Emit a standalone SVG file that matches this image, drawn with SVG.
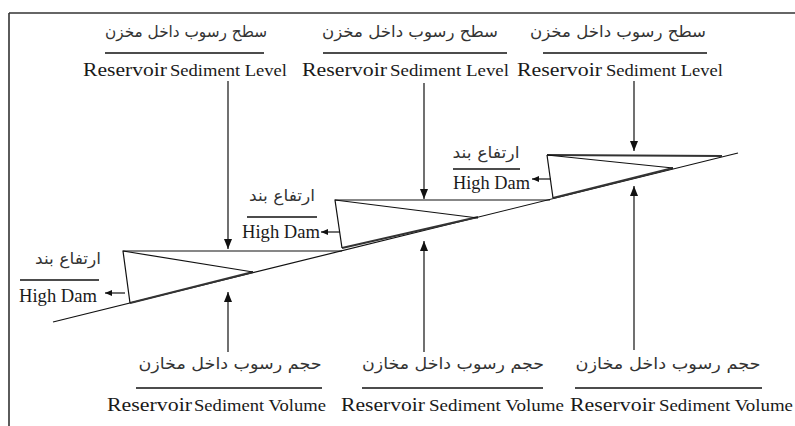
<svg xmlns="http://www.w3.org/2000/svg" width="795" height="426" viewBox="0 0 795 426">
<style>
.ln{stroke:#111;stroke-width:1.2;fill:none}
.sed{stroke:#333;stroke-width:2.2;fill:none}
.en{font-family:"Liberation Serif","Times New Roman",serif;fill:#1a1a1a}
.ar{font-family:"DejaVu Sans","Noto Sans",sans-serif;fill:#333;font-size:16px}
.rule{stroke:#111;stroke-width:1.3}
</style>
<defs>
<marker id="ah" markerUnits="userSpaceOnUse" markerWidth="10" markerHeight="8" refX="10" refY="4" orient="auto"><path d="M0,0 L10,4 L0,8 z" fill="#111"/></marker>
<marker id="as" markerUnits="userSpaceOnUse" markerWidth="7" markerHeight="6" refX="7" refY="3" orient="auto"><path d="M0,0 L7,3 L0,6 z" fill="#111"/></marker>
</defs>
<rect width="795" height="426" fill="#fff"/>
<g id="frame">
<line x1="9" y1="13" x2="795" y2="13" stroke="#333" stroke-width="1.6"/>
<line x1="9" y1="13" x2="9" y2="426" stroke="#333" stroke-width="1.6"/>
</g>
<g id="bed">
<line class="ln" x1="53" y1="322" x2="738" y2="153"/>
<line class="sed" x1="130" y1="303" x2="253" y2="272"/>
<line class="sed" x1="342" y1="248" x2="478" y2="217"/>
<line class="sed" x1="553" y1="198" x2="673" y2="168"/>
</g>
<g id="dam1">
<polyline class="ln" points="130,303 123,251 342,251"/>
<line class="ln" x1="123" y1="251" x2="253" y2="272"/>
</g>
<g id="dam2">
<polyline class="ln" points="342,248 335,200 550,200"/>
<line class="ln" x1="335" y1="200" x2="478" y2="218"/>
</g>
<g id="dam3">
<polyline class="ln" points="553,198 547,155"/>
<line x1="547" y1="155" x2="722" y2="156" stroke="#333" stroke-width="2.2"/>
<line class="ln" x1="547" y1="155" x2="673" y2="168"/>
</g>
<g id="connectors">
<line class="ln" x1="228" y1="81" x2="228" y2="249" marker-end="url(#ah)"/>
<line class="ln" x1="424" y1="83" x2="424" y2="199" marker-end="url(#ah)"/>
<line class="ln" x1="634" y1="81" x2="634" y2="151" marker-end="url(#ah)"/>
<line class="ln" x1="228" y1="352" x2="228" y2="292" marker-end="url(#ah)"/>
<line class="ln" x1="424" y1="352" x2="424" y2="241" marker-end="url(#ah)"/>
<line class="ln" x1="634" y1="350" x2="634" y2="186" marker-end="url(#ah)"/>
<line class="ln" x1="125" y1="293" x2="105" y2="293" marker-end="url(#as)"/>
<line class="ln" x1="340" y1="232" x2="321" y2="232" marker-end="url(#as)"/>
<line class="ln" x1="551" y1="179" x2="532" y2="179" marker-end="url(#as)"/>
</g>
<g id="label-level-1">
<text class="ar" x="186" y="37" text-anchor="middle" textLength="162" lengthAdjust="spacingAndGlyphs" direction="rtl">سطح رسوب داخل مخزن</text>
<line class="rule" x1="105" y1="53" x2="264" y2="53"/>
<text class="en" x="83" y="76" font-size="19" textLength="84" lengthAdjust="spacingAndGlyphs">Reservoir</text>
<text class="en" x="170" y="76" font-size="16.5" textLength="117" lengthAdjust="spacingAndGlyphs">Sediment Level</text>
</g>
<g id="label-level-2">
<text class="ar" x="410" y="37" text-anchor="middle" textLength="176" lengthAdjust="spacingAndGlyphs" direction="rtl">سطح رسوب داخل مخزن</text>
<line class="rule" x1="323" y1="53" x2="507" y2="53"/>
<text class="en" x="302" y="76" font-size="19" textLength="85" lengthAdjust="spacingAndGlyphs">Reservoir</text>
<text class="en" x="390" y="76" font-size="16.5" textLength="119" lengthAdjust="spacingAndGlyphs">Sediment Level</text>
</g>
<g id="label-level-3">
<text class="ar" x="618" y="37" text-anchor="middle" textLength="176" lengthAdjust="spacingAndGlyphs" direction="rtl">سطح رسوب داخل مخزن</text>
<line class="rule" x1="543" y1="53" x2="707" y2="53"/>
<text class="en" x="517" y="76" font-size="19" textLength="85" lengthAdjust="spacingAndGlyphs">Reservoir</text>
<text class="en" x="606" y="76" font-size="16.5" textLength="117" lengthAdjust="spacingAndGlyphs">Sediment Level</text>
</g>
<g id="label-dam-1">
<text class="ar" x="68" y="264" text-anchor="middle" textLength="66" lengthAdjust="spacingAndGlyphs" direction="rtl">ارتفاع بند</text>
<line class="rule" x1="20" y1="280" x2="99" y2="280"/>
<text class="en" x="19" y="302" font-size="18.5" textLength="78" lengthAdjust="spacingAndGlyphs">High Dam</text>
</g>
<g id="label-dam-2">
<text class="ar" x="282" y="201" text-anchor="middle" textLength="66" lengthAdjust="spacingAndGlyphs" direction="rtl">ارتفاع بند</text>
<line class="rule" x1="247" y1="217" x2="317" y2="217"/>
<text class="en" x="242" y="238" font-size="18.5" textLength="78" lengthAdjust="spacingAndGlyphs">High Dam</text>
</g>
<g id="label-dam-3">
<text class="ar" x="486" y="158" text-anchor="middle" textLength="67" lengthAdjust="spacingAndGlyphs" direction="rtl">ارتفاع بند</text>
<line class="rule" x1="453" y1="169" x2="520" y2="169"/>
<text class="en" x="453" y="189" font-size="18.5" textLength="77" lengthAdjust="spacingAndGlyphs">High Dam</text>
</g>
<g id="label-volume-1">
<text class="ar" x="230" y="369" text-anchor="middle" textLength="183" lengthAdjust="spacingAndGlyphs" direction="rtl">حجم رسوب داخل مخازن</text>
<line class="rule" x1="136" y1="388" x2="322" y2="388"/>
<text class="en" x="107" y="411" font-size="19" textLength="85" lengthAdjust="spacingAndGlyphs">Reservoir</text>
<text class="en" x="194" y="411" font-size="17" textLength="132" lengthAdjust="spacingAndGlyphs">Sediment Volume</text>
</g>
<g id="label-volume-2">
<text class="ar" x="453" y="369" text-anchor="middle" textLength="182" lengthAdjust="spacingAndGlyphs" direction="rtl">حجم رسوب داخل مخازن</text>
<line class="rule" x1="362" y1="388" x2="543" y2="388"/>
<text class="en" x="341" y="411" font-size="19" textLength="84" lengthAdjust="spacingAndGlyphs">Reservoir</text>
<text class="en" x="429" y="411" font-size="17" textLength="135" lengthAdjust="spacingAndGlyphs">Sediment Volume</text>
</g>
<g id="label-volume-3">
<text class="ar" x="668" y="369" text-anchor="middle" textLength="185" lengthAdjust="spacingAndGlyphs" direction="rtl">حجم رسوب داخل مخازن</text>
<line class="rule" x1="575" y1="388" x2="762" y2="388"/>
<text class="en" x="570" y="411" font-size="19" textLength="85" lengthAdjust="spacingAndGlyphs">Reservoir</text>
<text class="en" x="659" y="411" font-size="17" textLength="134" lengthAdjust="spacingAndGlyphs">Sediment Volume</text>
</g>
</svg>
